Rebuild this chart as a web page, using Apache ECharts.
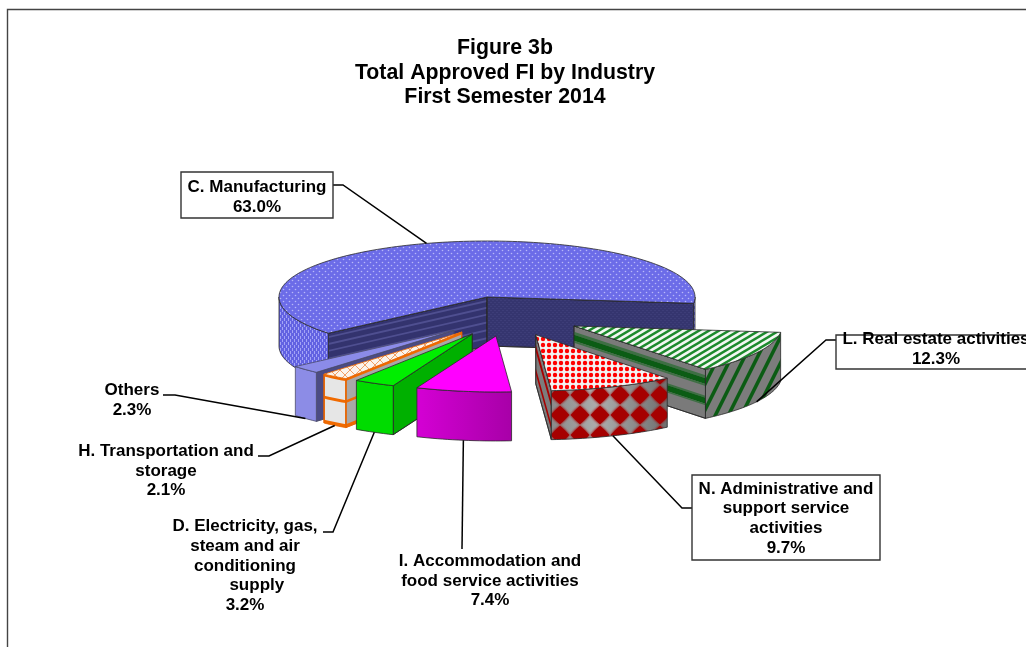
<!DOCTYPE html>
<html><head><meta charset="utf-8">
<style>html,body{margin:0;padding:0;background:#fff}#c{width:1026px;height:647px}</style>
<script src="https://cdn.jsdelivr.net/npm/echarts@6/dist/echarts.min.js"></script>
</head><body><div id="c"></div>
<script>
// ---- data (clockwise from the right-hand edge of the pie) ----
const categories = ['L. Real estate activities','N. Administrative and support service activities','I. Accommodation and food service activities','D. Electricity, gas, steam and air conditioning supply','H. Transportation and storage','Others','C. Manufacturing'];
const shares = [12.3, 9.7, 7.4, 3.2, 2.1, 2.3, 63.0];
const labelLines = [
  ['L. Real estate activities'],
  ['N. Administrative and','support service','activities'],
  ['I. Accommodation and','food service activities'],
  ['D. Electricity, gas,','steam and air','conditioning','     supply'],
  ['H. Transportation and','storage'],
  ['Others'],
  ['C. Manufacturing']
];
const titleLines = ['Figure 3b','Total Approved FI by Industry','First Semester 2014'];
const pulledOut = [1,1,1,1,1,1,0];
const drawOrder = [6,5,4,3,0,2,1];

// ---- projection of the tilted pie ----
const FONT = '"Liberation Sans", Arial, sans-serif';
const PIE = {cx:487, cy:297, rx:208, ry:56, depth:49, startDeg:6.5,
             pullX:75.4, pullY:19.6, shiftX:20.8, shiftY:19.6};
const rad = d => d*Math.PI/180;
let acc = PIE.startDeg;
const slices = shares.map((v,i)=>{
  const a0 = acc, a1 = acc + v*3.6; acc = a1;
  const m = rad((a0+a1)/2);
  const ox = pulledOut[i] ? PIE.pullX*Math.cos(m)+PIE.shiftX : 0;
  const oy = pulledOut[i] ? PIE.pullY*Math.sin(m)+PIE.shiftY : 0;
  return {a0,a1,mid:(a0+a1)/2,ax:PIE.cx+ox,ay:PIE.cy+oy};
});
const rim = (s,d,down=0)=>[s.ax+PIE.rx*Math.cos(rad(d)), s.ay+PIE.ry*Math.sin(rad(d))+down];
function arcPts(s,a,b){const n=Math.max(2,Math.ceil(Math.abs(b-a)/1.5));const p=[];for(let k=0;k<=n;k++)p.push(rim(s,a+(b-a)*k/n));return p;}

// ---- textures ----
function tile(w,h,fn){const c=document.createElement('canvas');c.width=w;c.height=h;fn(c.getContext('2d'),w,h);return {image:c,repeat:'repeat'};}
function dot(g,x,y,r,col){g.fillStyle=col;g.beginPath();g.arc(x,y,r,0,7);g.fill();}
const texMfgTop = tile(6,6,(g,w,h)=>{g.fillStyle='#6c6ce8';g.fillRect(0,0,w,h);dot(g,1.5,1.5,.8,'#b8b8f8');dot(g,4.5,4.5,.8,'#b8b8f8');});
const texMfgWall = tile(4,6,(g,w,h)=>{g.fillStyle='#6262e2';g.fillRect(0,0,w,h);g.fillStyle='#a4a4f6';g.fillRect(0,0,1,3);g.fillRect(2,3,1,3);});
const texMfgFace = tile(4,4,(g,w,h)=>{g.fillStyle='#35356f';g.fillRect(0,0,w,h);g.fillStyle='#3d3d78';g.fillRect(0,0,2,1);g.fillRect(2,2,2,1);});
const texRealTop = tile(10,6,(g,w,h)=>{g.fillStyle='#f2f7f2';g.fillRect(0,0,w,h);g.strokeStyle='#1c8a2c';g.lineWidth=2.4;
  [0,6,12].forEach(c=>{g.beginPath();g.moveTo(-5,c+3);g.lineTo(15,c-9);g.stroke();});});
const texRealWall = tile(13,26,(g,w,h)=>{g.fillStyle='#7c7c7c';g.fillRect(0,0,w,h);g.strokeStyle='#0b5c14';g.lineWidth=3.6;
  [0,13,26].forEach(c=>{g.beginPath();g.moveTo(c+1,-2);g.lineTo(c-14,28);g.stroke();});});
const texAdminTop = tile(6,6,(g,w,h)=>{g.fillStyle='#f2f2f2';g.fillRect(0,0,w,h);dot(g,3,3,2.2,'#ff0000');});
const texAdminWall = tile(20,20,(g,w,h)=>{g.shadowColor='#a60000';g.shadowBlur=3;[[0,15],[20,15],[0,-5],[20,-5]].forEach(([x,y])=>{g.fillStyle='#a60000';g.beginPath();g.moveTo(x-9.5,y);g.lineTo(x,y-9.5);g.lineTo(x+9.5,y);g.lineTo(x,y+9.5);g.closePath();g.fill();dot(g,x,y,6.5,'#a60000');});});
const texTransTop = tile(10,10,(g,w,h)=>{g.fillStyle='#fbf4ec';g.fillRect(0,0,w,h);g.strokeStyle='#f2a066';g.lineWidth=1;
  [-10,0,10].forEach(c=>{g.beginPath();g.moveTo(c,0);g.lineTo(c+10,10);g.stroke();g.beginPath();g.moveTo(c+10,0);g.lineTo(c,10);g.stroke();});});
const adminWallBase = new echarts.graphic.LinearGradient(0,0,1,0,[{offset:0,color:'#8a8a8a'},{offset:.4,color:'#adadad'},{offset:1,color:'#6f6f6f'}]);
const accWall = new echarts.graphic.LinearGradient(0,0,1,0,[{offset:0,color:'#d400d4'},{offset:1,color:'#a800a8'}]);

// ---- look of each slice: top, wall layers, side face base, bands (depth fractions) ----
const EDGE = '#2a2a2a';
const looks = [
 {top:texRealTop, wall:[texRealWall], face:'#7a7a7a', bands:[[.12,.18,'#3e6f44'],[.18,.30,'#0b5c14'],[.30,.34,'#3e6f44'],[.54,.58,'#3e6f44'],[.58,.70,'#0b5c14'],[.70,.73,'#3e6f44']]},
 {top:texAdminTop, wall:[adminWallBase,texAdminWall], face:'#7c7c7c', bands:[[.2,.34,'#a60000'],[.68,.8,'#a60000']]},
 {top:'#ff00ff', wall:[accWall], face:'#a800a8', bands:[]},
 {top:'#00ee00', wall:['#00dc00'], face:'#00b000', bands:[]},
 {top:texTransTop, wall:['#e6e6e6'], face:'#a8a8a8', bands:[[0,.05,'#f06a00'],[.44,.5,'#f06a00'],[.93,1,'#f06a00']], wallBands:[[0,.05,'#f06a00'],[.44,.5,'#f06a00'],[.93,1,'#f06a00']], edge:'#e86400'},
 {top:'#8b8be8', wall:['#8c8ce6'], face:'#4b4b84', bands:[], edge:'#4a4a6a'},
 {top:texMfgTop, wall:[texMfgWall], face:texMfgFace, faceStart:'#33336e', bands:[[.06,.1,'#4f4f90'],[.2,.24,'#4f4f90'],[.34,.38,'#4f4f90'],[.5,.54,'#4f4f90'],[.66,.7,'#4f4f90'],[.82,.86,'#4f4f90']], bandsOnly:'start'}
];

function poly(points,fill,stroke,lw){return {type:'polygon',shape:{points},style:{fill,stroke:stroke||null,lineWidth:lw||0}};}
function sideFace(s,d,look,base,useBands,out){
  const c=rim(s,d),D=PIE.depth,at=f=>[[s.ax,s.ay+D*f],[c[0],c[1]+D*f]];
  out.push(poly([[s.ax,s.ay],c,[c[0],c[1]+D],[s.ax,s.ay+D]],base,look.edge||EDGE,.8));
  if(useBands) look.bands.forEach(([f0,f1,col])=>{const a=at(f0),b=at(f1);out.push(poly([a[0],a[1],b[1],b[0]],col));});
  out.push(poly([[s.ax,s.ay],c,[c[0],c[1]+D],[s.ax,s.ay+D]],'none',look.edge||EDGE,.8));
}
function wall(s,a,b,look,out){
  if(b<=a) return;
  const up=arcPts(s,a,b),low=up.slice().reverse().map(p=>[p[0],p[1]+PIE.depth]);
  look.wall.forEach(f=>out.push(poly(up.concat(low),f)));
  (look.wallBands||[]).forEach(([f0,f1,col])=>{
    out.push(poly(up.map(p=>[p[0],p[1]+PIE.depth*f0]).concat(up.slice().reverse().map(p=>[p[0],p[1]+PIE.depth*f1])),col));});
  if(look.wallBands){[[a,1.5],[b,1.5]].forEach(([d,lw])=>{const p=rim(s,d);out.push({type:'polyline',shape:{points:[p,[p[0],p[1]+PIE.depth]]},style:{stroke:look.edge,lineWidth:lw,fill:'none'}});});}
  out.push(poly(up.concat(low),'none',look.edge||EDGE,.8));
}
function renderSlice(params,api){
  const i=api.value(0),s=slices[i],look=looks[i],out=[];
  // side faces that turn towards the viewer
  if(Math.sin(rad(s.a0-90))>0) sideFace(s,s.a0,look,look.faceStart||look.face,look.bandsOnly==='start'||!look.bandsOnly,out);
  if(Math.sin(rad(s.a1+90))>0) sideFace(s,s.a1,look,look.face,look.bandsOnly!=='start',out);
  // outer wall: only the front half of the ellipse
  wall(s,Math.max(s.a0,0),Math.min(s.a1,180),look,out);
  wall(s,Math.max(s.a0,360),Math.min(s.a1,540),look,out);
  // top
  const pts=[[s.ax,s.ay]].concat(arcPts(s,s.a0,s.a1));
  out.push(poly(pts,look.top,look.edge||EDGE,.8));
  return {type:'group',children:out};
}

// ---- labels: centre of text block, optional box, elbow of the leader ----
const labelPlace = [
 {x:936,y:349,box:[836,335,200,34],via:[[836,340],[826,340]]},
 {x:786,y:518.5,box:[692,475,188,85],via:[[692,508],[682,508]]},
 {x:490,y:581,via:[[462,549]]},
 {x:245,y:566,via:[[323,532],[333,532]]},
 {x:166,y:471,via:[[258,456],[269,456]]},
 {x:132,y:400,via:[[163,395],[175,395]]},
 {x:257,y:197,box:[181,172,152,46],via:[[333,185],[343,185]]}
];
function renderLabel(params,api){
  const i=api.value(0),s=slices[i],L=labelPlace[i],out=[];
  const text=labelLines[i].concat(shares[i].toFixed(1)+'%').join('\n');
  const topOnly=i===6;
  const tip=rim(s,s.mid,topOnly?0:PIE.depth);
  out.push({type:'polyline',shape:{points:L.via.concat([tip])},style:{stroke:'#000',lineWidth:1.5,fill:'none'}});
  if(L.box) out.push({type:'rect',shape:{x:L.box[0],y:L.box[1],width:L.box[2],height:L.box[3]},style:{fill:'#fff',stroke:'#333',lineWidth:1.4}});
  out.push({type:'text',style:{text,x:L.x,y:L.y,align:'center',verticalAlign:'middle',fontFamily:FONT,fontWeight:'bold',fontSize:17,lineHeight:19.7,fill:'#000'}});
  return {type:'group',children:out};
}

const chart=echarts.init(document.getElementById('c'),null,{renderer:'canvas'});
chart.setOption({
  animation:false,
  backgroundColor:'#fff',
  title:{text:titleLines.join('\n'),left:500,top:31,textAlign:'center',
    textStyle:{fontFamily:FONT,fontWeight:'bold',fontSize:21.3,lineHeight:24.6,color:'#000'}},
  graphic:[{type:'polyline',silent:true,shape:{points:[[7.5,647],[7.5,9.5],[1026,9.5]]},style:{stroke:'#444',lineWidth:1.4,fill:'none'}}],
  series:[
   {type:'custom',name:'Slices',coordinateSystem:'none',silent:true,z:2,data:drawOrder.map(i=>[i,shares[i]]),dimensions:['slice','share'],encode:{value:1},renderItem:renderSlice},
   {type:'custom',name:'Labels',coordinateSystem:'none',silent:true,z:3,data:shares.map((v,i)=>[i,v]),dimensions:['slice','share'],encode:{value:1},renderItem:renderLabel}
  ]
});
</script></body></html>
